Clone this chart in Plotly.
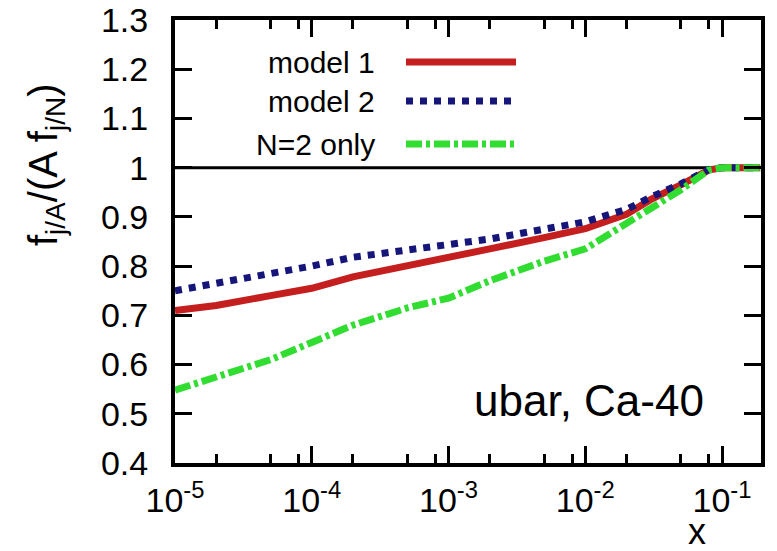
import plotly.graph_objects as go
import numpy as np

# ---------------- data ----------------
x_vals = [1e-5, 2e-5, 5e-5, 1e-4, 2e-4, 5e-4, 1e-3, 2e-3, 5e-3, 1e-2, 2e-2, 3e-2, 5e-2, 8e-2, 1e-1, 0.19]
model1 = [0.71, 0.72, 0.74, 0.755, 0.778, 0.80, 0.815, 0.835, 0.858, 0.876, 0.905, 0.935, 0.965, 0.995, 1.0, 1.0]
model2 = [0.75, 0.765, 0.784, 0.80, 0.818, 0.832, 0.842, 0.855, 0.875, 0.89, 0.915, 0.94, 0.967, 0.996, 1.0, 1.0]
n2only = [0.548, 0.575, 0.61, 0.645, 0.68, 0.715, 0.735, 0.77, 0.81, 0.835, 0.885, 0.915, 0.955, 0.995, 1.0, 1.0]
ref_line = [1.0, 1.0]
ref_x = [1e-5, 0.19]

series_names = ["model 1", "model 2", "N=2 only"]
x_tickvals = [1e-5, 1e-4, 1e-3, 1e-2, 1e-1]
x_ticktext = ["10<sup>-5</sup>", "10<sup>-4</sup>", "10<sup>-3</sup>", "10<sup>-2</sup>", "10<sup>-1</sup>"]
x_minor = [m * d for d in [1e-5, 1e-4, 1e-3, 1e-2, 1e-1] for m in (2, 5, 8)]

# ---------------- style ----------------
OFF = 8                      # default body margin of the page
W, H = 777 - OFF, 551 - OFF  # figure size
# plot box in window pixels: x 175..761, y 20..463
L, R, T, B = 175 - OFF, 16, 20 - OFF, 88
PW, PH = W - L - R, H - T - B
FONT = "Liberation Sans, Arial, sans-serif"
colors = ["#c41e1e", "#15157a", "#30dd30"]
dashes = ["solid", "7px,7px", "16px,4px,4px,4px"]

def px(xp):  # window pixel x -> paper
    return (xp - OFF - L) / PW

def py(yp):  # window pixel y -> paper
    return (H - B - (yp - OFF)) / PH

fig = go.Figure()
fig.add_trace(go.Scatter(x=ref_x, y=ref_line, mode="lines",
                         line=dict(color="black", width=3), showlegend=False, hoverinfo="skip"))
for ys, c, d, n in zip([model1, model2, n2only], colors, dashes, series_names):
    fig.add_trace(go.Scatter(x=x_vals, y=ys, mode="lines", name=n,
                             line=dict(color=c, width=7, dash=d), showlegend=False))

# custom legend (text right-aligned, sample on the right, gnuplot style)
leg_rows = [62, 101, 144]
shapes = []
annotations = []
for n, c, d, yr in zip(series_names, colors, dashes, leg_rows):
    annotations.append(dict(xref="paper", yref="paper", x=px(377), y=py(yr), text=n,
                            showarrow=False, xanchor="right", yanchor="middle",
                            font=dict(family=FONT, size=30, color="black")))
    shapes.append(dict(type="line", xref="paper", yref="paper",
                       x0=px(406), x1=px(516), y0=py(yr), y1=py(yr),
                       line=dict(color=c, width=7, dash=d)))

annotations.append(dict(xref="paper", yref="paper", x=px(706), y=py(400), text="ubar, Ca-40",
                        showarrow=False, xanchor="right", yanchor="middle",
                        font=dict(family=FONT, size=44, color="black")))
annotations.append(dict(xref="paper", yref="paper", x=px(697), y=py(531), text="x",
                        showarrow=False, xanchor="center", yanchor="middle",
                        font=dict(family=FONT, size=36, color="black")))
annotations.append(dict(xref="paper", yref="paper", x=px(46), y=py(165),
                        text="f<sub>j/A</sub>/(A f<sub>j/N</sub>)", textangle=-90,
                        showarrow=False, xanchor="center", yanchor="middle",
                        font=dict(family=FONT, size=40, color="black")))

fig.update_layout(
    width=W, height=H,
    margin=dict(l=L, r=R, t=T, b=B, autoexpand=False),
    paper_bgcolor="white", plot_bgcolor="white",
    shapes=shapes, annotations=annotations,
    showlegend=False,
    font=dict(family=FONT, color="black"),
)
fig.update_xaxes(
    type="log", range=[-5, -0.715], automargin=False, ticklabeloverflow="allow",
    tickmode="array", tickvals=x_tickvals, ticktext=x_ticktext,
    ticks="inside", ticklen=17, tickwidth=3, tickcolor="black",
    minor=dict(tickmode="array", tickvals=x_minor, ticks="inside", ticklen=9,
               tickwidth=3, tickcolor="black", showgrid=False),
    showline=True, linewidth=4, linecolor="black", mirror="allticks",
    showgrid=False, zeroline=False,
    tickfont=dict(family=FONT, size=34, color="black"),
    ticklabelstandoff=4,
)
fig.update_yaxes(
    range=[0.4, 1.3], tickmode="linear", tick0=0.4, dtick=0.1, automargin=False,
    ticklabeloverflow="allow",
    ticks="inside", ticklen=17, tickwidth=3, tickcolor="black",
    showline=True, linewidth=4, linecolor="black", mirror="allticks",
    showgrid=False, zeroline=False,
    tickfont=dict(family=FONT, size=34, color="black"),
    ticklabelstandoff=16,
)

fig.write_html("out.html")
